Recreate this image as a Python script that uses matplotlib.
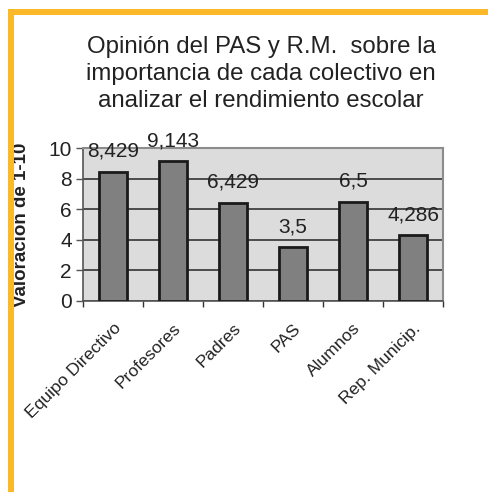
import matplotlib.pyplot as plt
from matplotlib.patches import Rectangle
import numpy as np

plt.rcParams['font.family'] = ['Liberation Sans', 'DejaVu Sans']

categorias = ['Equipo Directivo', 'Profesores', 'Padres', 'PAS', 'Alumnos', 'Rep. Municip.']
valores = [8.429, 9.143, 6.429, 3.5, 6.5, 4.286]
etiquetas = ['8,429', '9,143', '6,429', '3,5', '6,5', '4,286']
y_ticks = [0, 2, 4, 6, 8, 10]

fig = plt.figure(figsize=(4.88, 4.92), dpi=100)
fig.patch.set_facecolor('white')

# orange frame on top and left
orange = '#fbb829'
fig.add_artist(Rectangle((8/488, 0), 6/488, 1 - 9/492, transform=fig.transFigure,
                         color=orange, lw=0))
fig.add_artist(Rectangle((8/488, 1 - 15/492), 1, 6/492, transform=fig.transFigure,
                         color=orange, lw=0))

ax = fig.add_axes([83/488, 191/492, 360/488, 153/492])
ax.set_facecolor('#dcdcdc')

x = np.arange(len(categorias))
ax.bar(x, valores, width=0.47, color='#808080', edgecolor='#1a1a1a', linewidth=2, zorder=3)

for xi, v, lab in zip(x, valores, etiquetas):
    ax.annotate(lab, (xi, v), xytext=(0, 8), textcoords='offset points',
                ha='center', va='bottom', fontsize=15, color='#222222', zorder=4)

ax.set_xlim(-0.5, len(categorias) - 0.5)
ax.set_ylim(0, 10)
ax.set_yticks(y_ticks)
ax.set_yticklabels([str(t) for t in y_ticks], fontsize=15, color='#222222')
ax.yaxis.grid(True, color='#333333', linewidth=1.2, zorder=1)
ax.tick_params(axis='y', length=5, width=1, color='#555555', pad=3)

ax.set_xticks(x)
ax.set_xticklabels(categorias, rotation=45, ha='right', rotation_mode='anchor',
                   fontsize=12.6, color='#222222')
ax.set_xticks(np.arange(len(categorias) + 1) - 0.5, minor=True)
ax.tick_params(axis='x', which='major', length=0, pad=14)
ax.tick_params(axis='x', which='minor', length=4, width=1, color='#333333', direction='out')

for side in ['top', 'right']:
    ax.spines[side].set_color('#8c8c8c')
    ax.spines[side].set_linewidth(1.5)
for side in ['left', 'bottom']:
    ax.spines[side].set_color('#555555')
    ax.spines[side].set_linewidth(1.2)

ax.set_ylabel('Valoracion de 1-10', fontsize=13.5, fontweight='bold', color='#222222')
ax.yaxis.set_label_coords(-(83 - 30) / 360, 0.5)

fig.text(0.535, 1 - 36/492,
         'Opinión del PAS y R.M.  sobre la\nimportancia de cada colectivo en\nanalizar el rendimiento escolar',
         ha='center', va='top', fontsize=17.3, color='#222222', linespacing=1.3)

fig.savefig('out.png', dpi=100)
